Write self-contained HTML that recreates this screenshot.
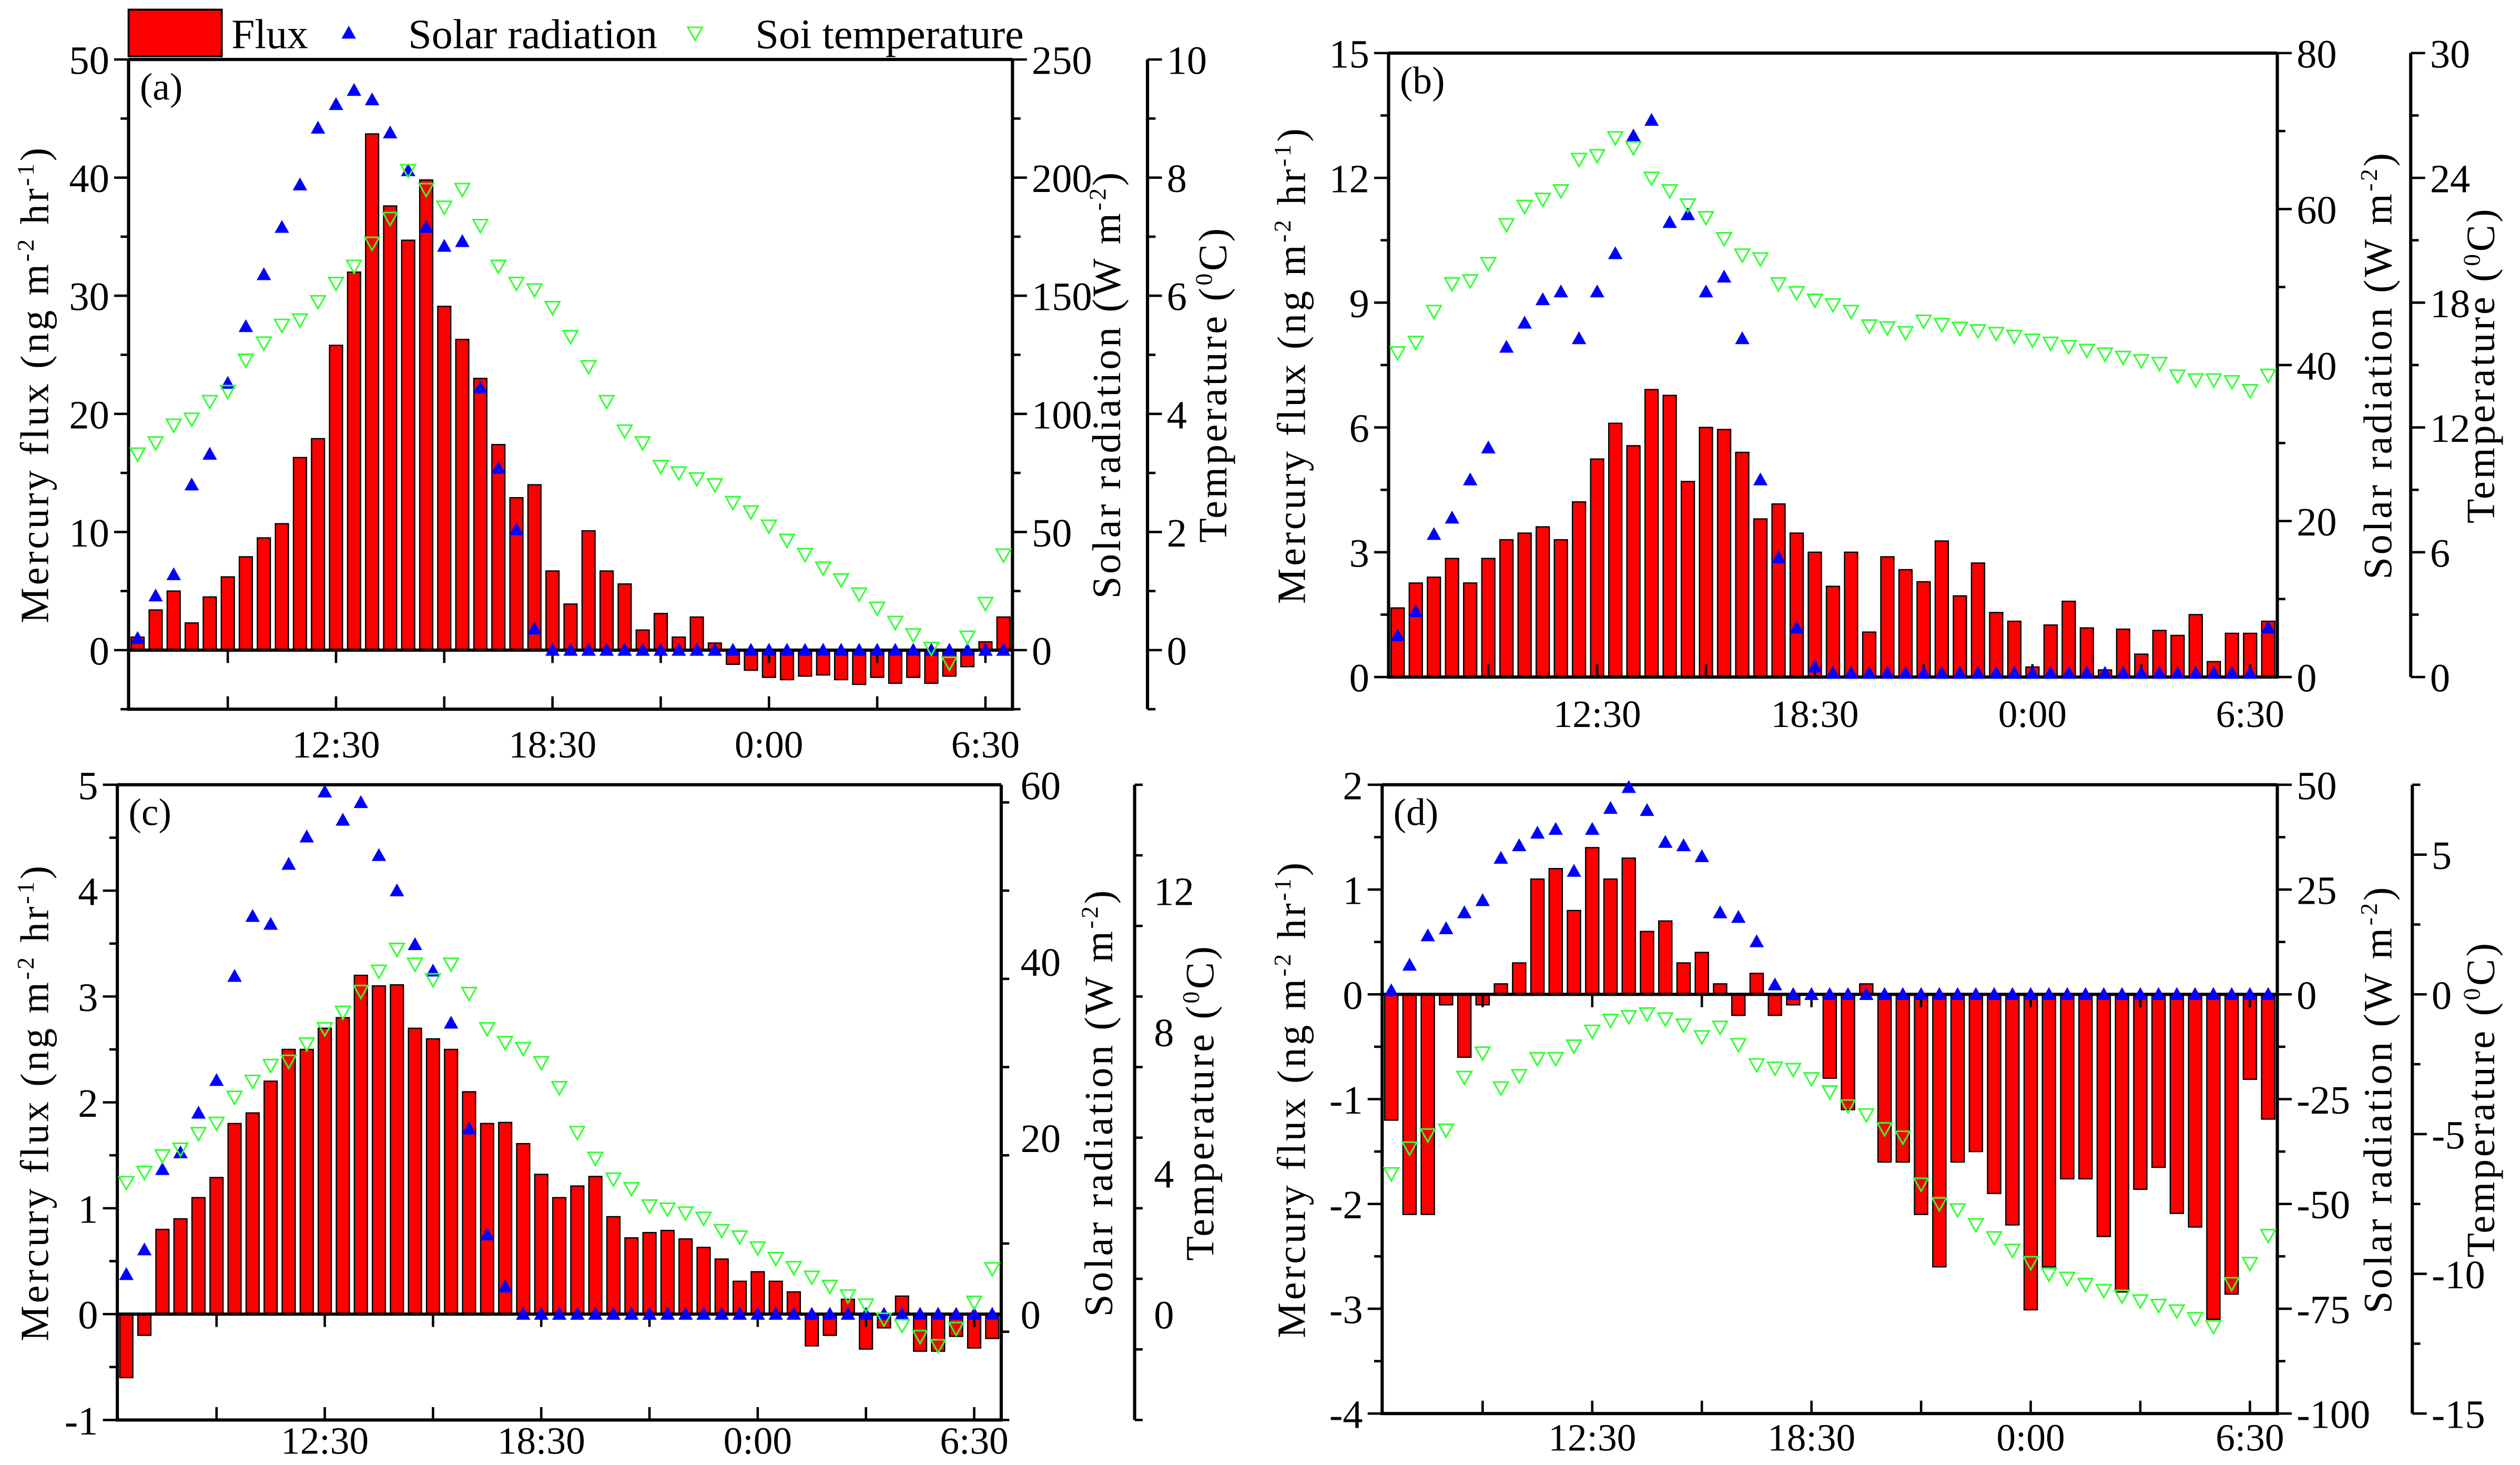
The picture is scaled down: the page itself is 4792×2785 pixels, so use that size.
<!DOCTYPE html>
<html><head><meta charset="utf-8"><style>
html,body{margin:0;padding:0;background:#fff;}
svg{display:block;}
text{font-family:"Liberation Serif","DejaVu Serif",serif;fill:#000;}
</style></head><body>
<svg id="chart" xmlns="http://www.w3.org/2000/svg" width="4792" height="2785" viewBox="0 0 1568 911" preserveAspectRatio="none" font-family="Liberation Serif, DejaVu Serif, serif">
<g>
  <rect x="80" y="6" width="58" height="29" fill="#ff0000" stroke="#000" stroke-width="1.2"/>
  <text x="144" y="30" font-size="26">Flux</text>
  <path d="M217,16 l4.5,8 h-9 z" fill="#0000ff"/>
  <text x="254" y="30" font-size="26" textLength="155" lengthAdjust="spacingAndGlyphs">Solar radiation</text>
  <path d="M428,17 h9 l-4.5,8 z" fill="none" stroke="#33ff33" stroke-width="1"/>
  <text x="470" y="30" font-size="26" textLength="167" lengthAdjust="spacingAndGlyphs">Soi temperature</text>
</g>
</svg>
<script>
const timeLabels = ["12:30","18:30","0:00","6:30"];
const timeLabelIdx = [11,23,35,47];
const fluxA = [1.1,3.4,5.0,2.3,4.5,6.2,7.9,9.5,10.7,16.3,17.9,25.8,32.0,43.7,37.6,34.7,39.8,29.1,26.3,23.0,17.4,12.9,14.0,6.7,3.9,10.1,6.7,5.6,1.7,3.1,1.1,2.8,0.6,-1.2,-1.7,-2.3,-2.5,-2.2,-2.1,-2.5,-2.9,-2.3,-2.8,-2.3,-2.8,-2.2,-1.4,0.7,2.8];
const solarA = [5,23,32,70,83,113,137,159,179,197,221,231,237,233,219,203,179,171,173,111,77,51,9,0,0,0,0,0,0,0,0,0,0,0,0,0,0,0,0,0,0,0,0,0,0,0,0,0,0];
const tempA = [3.31,3.5,3.8,3.9,4.2,4.37,4.9,5.19,5.49,5.58,5.89,6.2,6.49,6.88,7.3,8.11,7.79,7.49,7.79,7.18,6.49,6.2,6.09,5.79,5.3,4.79,4.2,3.7,3.5,3.1,2.99,2.89,2.79,2.49,2.33,2.09,1.85,1.61,1.38,1.18,0.94,0.7,0.46,0.25,0.02,-0.23,0.21,0.78,1.6];
const fluxB = [1.66,2.26,2.4,2.85,2.26,2.85,3.3,3.46,3.61,3.3,4.21,5.24,6.1,5.56,6.91,6.77,4.7,6.0,5.95,5.4,3.8,4.16,3.46,3.0,2.18,3.0,1.08,2.89,2.58,2.29,3.27,1.95,2.74,1.55,1.34,0.24,1.25,1.82,1.18,0.17,1.15,0.55,1.12,1.0,1.5,0.37,1.05,1.05,1.34];
const solarB = [5.3,8.4,18.3,20.4,25.3,29.4,42.3,45.4,48.4,49.4,43.4,49.4,54.3,69.4,71.4,58.3,59.3,49.4,51.3,43.4,25.3,15.3,6.3,1.3,0.5,0.5,0.5,0.5,0.5,0.5,0.5,0.5,0.5,0.5,0.5,0.5,0.5,0.5,0.5,0.5,0.5,0.5,0.5,0.5,0.5,0.5,0.5,0.5,6.3];
const tempB = [15.56,16.06,17.55,18.88,19.02,19.85,21.72,22.6,22.94,23.35,24.86,25.04,25.9,25.42,23.96,23.35,22.67,22.06,21.05,20.26,20.08,18.88,18.45,18.09,17.87,17.55,16.85,16.76,16.53,17.08,16.92,16.74,16.62,16.49,16.35,16.17,16.02,15.86,15.68,15.5,15.34,15.18,15.05,14.44,14.26,14.26,14.17,13.74,14.48];
const fluxC = [-0.6,-0.2,0.8,0.9,1.1,1.29,1.8,1.9,2.2,2.5,2.5,2.7,2.8,3.2,3.1,3.11,2.7,2.6,2.5,2.1,1.8,1.81,1.61,1.32,1.1,1.21,1.3,0.92,0.72,0.77,0.79,0.71,0.63,0.52,0.31,0.4,0.31,0.21,-0.3,-0.2,0.14,-0.33,-0.13,0.17,-0.35,-0.35,-0.21,-0.32,-0.23];
const solarC = [4.5,7.3,16.4,18.3,22.8,26.5,38.3,45.1,44.2,51.0,54.1,59.2,56.0,58.0,52.0,48.0,41.9,38.9,33.0,21.0,9.0,3.1,0,0,0,0,0,0,0,0,0,0,0,0,0,0,0,0,0,0,0,0,0,0,0,0,0,0,0];
const tempC = [3.71,4.0,4.47,4.66,5.1,5.39,6.13,6.58,7.03,7.15,7.64,8.07,8.54,9.13,9.7,10.32,9.9,9.46,9.9,9.07,8.07,7.68,7.51,7.11,6.4,5.13,4.4,3.81,3.54,3.05,2.96,2.85,2.7,2.35,2.17,1.86,1.56,1.3,1.03,0.77,0.5,0.24,-0.16,-0.34,-0.65,-0.91,-0.42,0.32,1.27];
const fluxD = [-1.2,-2.1,-2.1,-0.1,-0.6,-0.1,0.1,0.3,1.1,1.2,0.8,1.4,1.1,1.3,0.6,0.7,0.3,0.4,0.1,-0.2,0.2,-0.2,-0.1,0,-0.8,-1.1,0.1,-1.6,-1.6,-2.1,-2.6,-1.6,-1.5,-1.9,-2.2,-3.01,-2.6,-1.76,-1.76,-2.31,-2.84,-1.86,-1.65,-2.09,-2.22,-3.1,-2.86,-0.81,-1.19];
const solarD = [0.9,7,14,15.7,19.5,22.4,32.5,35.5,38.5,39.4,29.4,39.4,44.4,49.4,43.9,36.3,35.5,32.9,19.5,18.4,12.6,2.3,0,0,0,0,0,0,0,0,0,0,0,0,0,0,0,0,0,0,0,0,0,0,0,0,0,0,0];
const tempD = [-6.44,-5.52,-5.05,-4.88,-2.99,-2.12,-3.37,-2.93,-2.32,-2.32,-1.87,-1.34,-0.95,-0.82,-0.72,-0.9,-1.12,-1.54,-1.2,-1.82,-2.54,-2.66,-2.71,-3.04,-3.51,-4.01,-4.33,-4.83,-5.13,-6.81,-7.51,-7.73,-8.26,-8.73,-9.18,-9.62,-10.03,-10.18,-10.4,-10.62,-10.82,-10.99,-11.15,-11.35,-11.62,-11.91,-10.37,-9.65,-8.65];

const NS="http://www.w3.org/2000/svg";
const svg=document.getElementById('chart');
function mk(tag,attrs,parent){const e=document.createElementNS(NS,tag);for(const k in attrs)e.setAttribute(k,attrs[k]);(parent||svg).appendChild(e);return e;}

const panels=[
 {id:'a',flux:fluxA,solar:solarA,temp:tempA,L:80,R:630,T:37,B:441,xl:30,
  f:[-5,50],fMaj:[0,10,20,30,40,50],fMin:5,
  s:[-25,250],sMaj:[0,50,100,150,200,250],sMin:25,
  t:[-1,10],tMaj:[0,2,4,6,8,10],tMin:1,tx:714,
  lt:30,st:697,tt:763},
 {id:'b',flux:fluxB,solar:solarB,temp:tempB,L:864,R:1417,T:33,B:421,xl:31,
  f:[0,15],fMaj:[0,3,6,9,12,15],fMin:1.5,
  s:[0,80],sMaj:[0,20,40,60,80],sMin:10,
  t:[0,30],tMaj:[0,6,12,18,24,30],tMin:3,tx:1500,
  lt:812,st:1488,tt:1552},
 {id:'c',flux:fluxC,solar:solarC,temp:tempC,L:73,R:623,T:488,B:883,xl:21,
  f:[-1,5],fMaj:[-1,0,1,2,3,4,5],fMin:0.5,
  s:[-12,60],sMaj:[0,20,40,60],sMin:10,
  t:[-3,15],tMaj:[0,4,8,12],tMin:2,tx:706,
  lt:30,st:692,tt:755},
 {id:'d',flux:fluxD,solar:solarD,temp:tempD,L:860,R:1417,T:488,B:879,xl:23,
  f:[-4,2],fMaj:[-4,-3,-2,-1,0,1,2],fMin:0.5,
  s:[-100,50],sMaj:[-100,-75,-50,-25,0,25,50],sMin:12.5,
  t:[-15,7.5],tMaj:[-15,-10,-5,0,5],tMin:2.5,tx:1501,
  lt:812,st:1488,tt:1552}
];

function fmt(v){return v<0?'-'+Math.abs(v):String(v);}

panels.forEach(p=>{
  const g=mk('g',{});
  
  
  const n=p.flux.length;
  const bw=(p.R-p.L)/n;
  const xC=i=>p.L+(i+0.5)*bw;
  const yF=v=>p.B-(v-p.f[0])/(p.f[1]-p.f[0])*(p.B-p.T);
  const yS=v=>p.B-(v-p.s[0])/(p.s[1]-p.s[0])*(p.B-p.T);
  const yT=v=>p.B-(v-p.t[0])/(p.t[1]-p.t[0])*(p.B-p.T);
  const y0=yF(0);
  p.flux.forEach((v,i)=>{
    const y=Math.min(yF(v),y0),h=Math.abs(yF(v)-y0);
    const r=mk('rect',{x:xC(i)-bw*0.36,y:y,width:bw*0.72,height:Math.max(h,0.3),fill:'#ff0000',stroke:'#000','stroke-width':0.8},g);
    
    
  });
  const zl=mk('line',{x1:p.L,x2:p.R,y1:y0,y2:y0,stroke:'#000','stroke-width':2},g);
  
  
  const fr=mk('path',{d:`M${p.L},${p.T}H${p.R}M${p.L},${p.T}V${p.B}H${p.R}V${p.T}`,fill:'none',stroke:'#000','stroke-width':2},g);
  
  
  for(let i=5;i<n;i+=6){
    const t=mk('line',{x1:xC(i),x2:xC(i),y1:p.B,y2:p.B-8,stroke:'#000','stroke-width':1.5},g);
    
    
    if(p.f[0]<0){const t2=mk('line',{x1:xC(i),x2:xC(i),y1:y0,y2:y0+8,stroke:'#000','stroke-width':1.5},g);
      
      }
  }
  timeLabels.forEach((lab,k)=>{
    const t=mk('text',{x:xC(timeLabelIdx[k]),y:p.B+p.xl,'font-size':24,'text-anchor':'middle'},g);
    t.textContent=lab;
    
    
  });
  for(let v=p.f[0];v<=p.f[1]+1e-9;v+=p.fMin){
    const maj=p.fMaj.some(m=>Math.abs(m-v)<1e-6);
    const t=mk('line',{x1:p.L,x2:p.L-(maj?9:5),y1:yF(v),y2:yF(v),stroke:'#000','stroke-width':1.5},g);
    
    
  }
  p.fMaj.forEach(v=>{
    const t=mk('text',{x:p.L-12,y:yF(v)+9,'font-size':25,'text-anchor':'end'},g);
    t.textContent=fmt(v);
    
    
  });
  for(let v=p.s[0];v<=p.s[1]+1e-9;v+=p.sMin){
    const maj=p.sMaj.some(m=>Math.abs(m-v)<1e-6);
    const t=mk('line',{x1:p.R,x2:p.R+(maj?9:5),y1:yS(v),y2:yS(v),stroke:'#000','stroke-width':1.5},g);
    
    
  }
  p.sMaj.forEach(v=>{
    const t=mk('text',{x:p.R+12,y:yS(v)+9,'font-size':25},g);
    t.textContent=fmt(v);
    
    
  });
  const ta=mk('line',{x1:p.tx,x2:p.tx,y1:p.T,y2:p.B,stroke:'#000','stroke-width':2},g);
  
  
  for(let v=p.t[0];v<=p.t[1]+1e-9;v+=p.tMin){
    const maj=p.tMaj.some(m=>Math.abs(m-v)<1e-6);
    const t=mk('line',{x1:p.tx,x2:p.tx+(maj?9:5),y1:yT(v),y2:yT(v),stroke:'#000','stroke-width':1.5},g);
    
    
  }
  p.tMaj.forEach(v=>{
    const t=mk('text',{x:p.tx+12,y:yT(v)+9,'font-size':25},g);
    t.textContent=fmt(v);
    
    
  });
  p.solar.forEach((v,i)=>{
    const x=xC(i),y=yS(v);
    const m=mk('path',{d:`M${x},${y-4.5} l4.5,8 h-9 z`,fill:'#0000ff'},g);
    
    
  });
  p.temp.forEach((v,i)=>{
    const x=xC(i),y=yT(v);
    const m=mk('path',{d:`M${x-4.5},${y-4} h9 l-4.5,8 z`,fill:'none',stroke:'#33ff33','stroke-width':1},g);
    
    
  });
  const pl=mk('text',{x:p.L+7,y:p.T+25,'font-size':24},g);
  pl.textContent='('+p.id+')';
  
  
  const cy=(p.T+p.B)/2;
  const lt=mk('text',{x:0,y:0,'font-size':25,'text-anchor':'middle',transform:`translate(${p.lt},${cy}) rotate(-90)`,'letter-spacing':'1.5'},g);
  lt.innerHTML='Mercury flux (ng m<tspan dy="-9" font-size="15">-2</tspan><tspan dy="9"> hr</tspan><tspan dy="-9" font-size="15">-1</tspan><tspan dy="9">)</tspan>';
  
  
  const st=mk('text',{x:0,y:0,'font-size':25,'text-anchor':'middle',transform:`translate(${p.st},${cy}) rotate(-90)`,'letter-spacing':'1.5'},g);
  st.innerHTML='Solar radiation (W m<tspan dy="-9" font-size="15">-2</tspan><tspan dy="9">)</tspan>';
  
  
  const tt=mk('text',{x:0,y:0,'font-size':25,'text-anchor':'middle',transform:`translate(${p.tt},${cy}) rotate(-90)`,'letter-spacing':'1.5'},g);
  tt.innerHTML='Temperature (<tspan dy="-9" font-size="15">0</tspan><tspan dy="9">C)</tspan>';
  
  
});
</script>
</body></html>
